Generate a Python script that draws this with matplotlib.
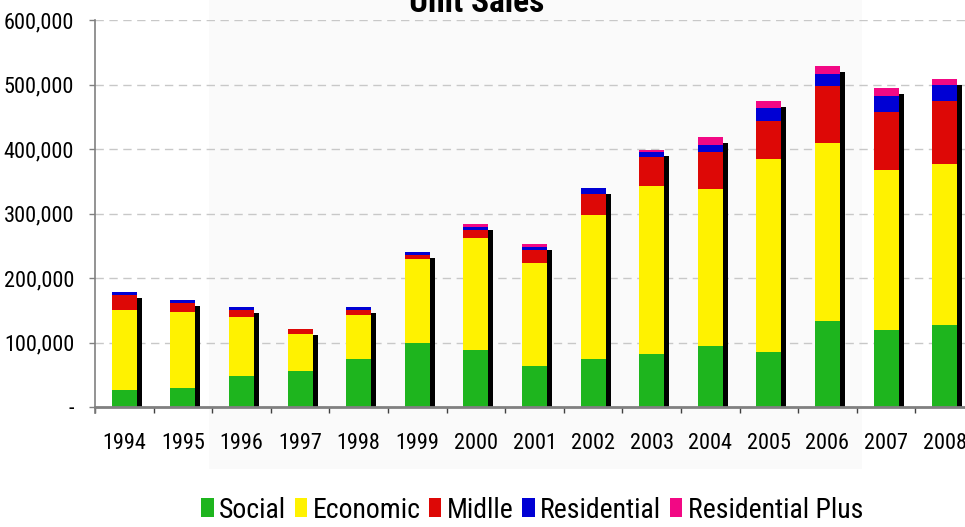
import numpy as np
import matplotlib
matplotlib.use("Agg")
import matplotlib.pyplot as plt
import matplotlib.transforms as mtransforms
from matplotlib.patches import Rectangle
from matplotlib.ticker import FixedLocator

plt.rcParams['font.family'] = ['Roboto Condensed', 'DejaVu Sans']

years = [str(y) for y in range(1994, 2009)]
social = [26000, 29000, 48000, 56000, 74000, 100000, 89000, 63000, 74000, 82000,
          94000, 85000, 134000, 120000, 127000]
economic = [124000, 118000, 91000, 57000, 68000, 129000, 173000, 161000, 223000, 260000,
            244000, 299000, 276000, 248000, 249000]
midlle = [24000, 14000, 11000, 8000, 8000, 7000, 12000, 20000, 34000, 45000,
          57000, 59000, 88000, 90000, 98000]
residential = [4000, 5000, 5000, 0, 5000, 5000, 5000, 4000, 8000, 8000,
               11000, 20000, 18000, 24000, 26000]
residential_plus = [0, 0, 0, 0, 0, 0, 4000, 4000, 0, 4000,
                    12000, 12000, 12000, 12000, 8000]

series = [
    ("Social", social, "#1eb51e"),
    ("Economic", economic, "#fff200"),
    ("Midlle", midlle, "#dd0806"),
    ("Residential", residential, "#0000d4"),
    ("Residential Plus", residential_plus, "#f20884"),
]
y_ticks = [0, 100000, 200000, 300000, 400000, 500000, 600000]
y_labels = ["-", "100,000", "200,000", "300,000", "400,000", "500,000", "600,000"]

W, H = 965, 527
fig = plt.figure(figsize=(W / 100, H / 100), dpi=100)

# faint grey panel behind the chart
fig.patches.append(Rectangle((209 / W, 1 - 469 / H), (862 - 209) / W, 469 / H,
                             transform=fig.transFigure, facecolor="#fafafa",
                             edgecolor="none", zorder=-1))

ax = fig.add_axes([95 / W, 1 - 407 / H, 879 / W, 387 / H])
ax.set_facecolor("none")
ax.set_zorder(1)

x = np.arange(len(years))
width = 0.43
totals = np.sum([s[1] for s in series], axis=0)

# black drop shadow behind each stack
shadow_tr = ax.transData + mtransforms.ScaledTranslation(0.05, -0.06, fig.dpi_scale_trans)
ax.bar(x, totals, width=width, color="black", transform=shadow_tr, zorder=2)

bottom = np.zeros(len(years))
for name, vals, col in series:
    ax.bar(x, vals, width=width, bottom=bottom, color=col, label=name, zorder=3)
    bottom += np.array(vals)

ax.set_xlim(-0.5, len(years) - 0.5)
ax.set_ylim(0, 600000)
ax.set_yticks(y_ticks)
ax.set_yticklabels(y_labels, fontsize=16)
ax.set_xticks(x)
ax.set_xticklabels(years, fontsize=16)
ax.xaxis.set_minor_locator(FixedLocator(np.arange(-0.5, len(years), 1.0)))
ax.tick_params(axis="x", which="major", length=0, pad=19)
ax.tick_params(axis="x", which="minor", length=4, width=1, color="#404040")
ax.tick_params(axis="y", length=4, width=1, color="#808080", pad=11)

ax.yaxis.grid(True, color="#c8c8c8", linestyle=(0, (6, 4)), linewidth=1)
ax.set_axisbelow(True)
for s in ["top", "right"]:
    ax.spines[s].set_visible(False)
ax.spines["left"].set_color("#808080")
ax.spines["left"].set_linewidth(1.2)
ax.spines["left"].set_bounds(-9000, 600000)
ax.spines["bottom"].set_color("#808080")
ax.spines["bottom"].set_linewidth(2)
ax.spines["bottom"].set_zorder(4)

fig.text(477 / W, 1 - 12 / H, "Unit Sales", ha="center", va="baseline",
         fontsize=24, fontweight="bold")

fig.legend(loc="center", bbox_to_anchor=(532 / W, 1 - 510 / H), ncol=5,
           frameon=False, fontsize=20, handlelength=0.45, handleheight=0.65,
           handletextpad=0.2, columnspacing=0.3, borderaxespad=0)

fig.savefig("out.png", dpi=100)
